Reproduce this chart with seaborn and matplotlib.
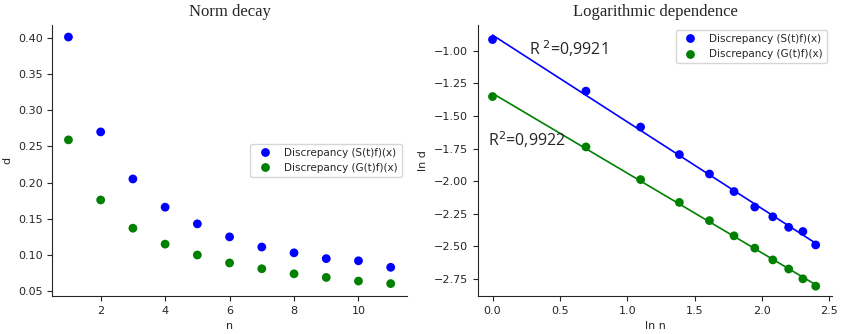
import numpy as np
import pandas as pd
import seaborn as sns
import matplotlib
matplotlib.use('Agg')
import matplotlib.pyplot as plt

# data
n = [1, 2, 3, 4, 5, 6, 7, 8, 9, 10, 11]
d_S = [0.401, 0.270, 0.205, 0.166, 0.143, 0.125, 0.111, 0.103, 0.095, 0.092, 0.083]
d_G = [0.259, 0.176, 0.137, 0.115, 0.100, 0.089, 0.081, 0.074, 0.069, 0.064, 0.0605]
lbl_S = 'Discrepancy (S(t)f)(x)'
lbl_G = 'Discrepancy (G(t)f)(x)'
r2_S = 'R$^{\\ 2}$=0,9921'
r2_G = 'R$^{2}$=0,9922'

sns.set_style('ticks')
plt.rcParams['font.family'] = ['DejaVu Sans']

df = pd.DataFrame({'n': n + n, 'd': d_S + d_G,
                   'serie': [lbl_S] * len(n) + [lbl_G] * len(n)})
df['ln n'] = np.log(df['n'])
df['ln d'] = np.log(df['d'])
boje = {lbl_S: 'blue', lbl_G: 'green'}

fig, axes = plt.subplots(1, 2, figsize=(8.44, 3.34), dpi=100)
fig.subplots_adjust(left=0.062, right=0.986, top=0.926, bottom=0.114, wspace=0.2)

# lijevi graf
ax = axes[0]
sns.scatterplot(data=df, x='n', y='d', hue='serie', palette=boje, ax=ax,
                s=40, edgecolor=None, linewidth=0)
ax.set_title('Norm decay', fontfamily='Liberation Serif', fontsize=12)
ax.set_xlabel('n', fontsize=8)
ax.set_ylabel('d', fontsize=8)
ax.set_yticks([0.05, 0.10, 0.15, 0.20, 0.25, 0.30, 0.35, 0.40])
ax.tick_params(labelsize=8)
ax.legend(title=None, fontsize=7.5, loc='center right', bbox_to_anchor=(1.0, 0.5))
sns.despine(ax=ax)

# desni graf
ax = axes[1]
for s in [lbl_S, lbl_G]:
    sub = df[df['serie'] == s]
    k, b = np.polyfit(sub['ln n'], sub['ln d'], 1)
    xx = np.array([sub['ln n'].min(), sub['ln n'].max()])
    ax.plot(xx, k * xx + b, color=boje[s], lw=1.2)
sns.scatterplot(data=df, x='ln n', y='ln d', hue='serie', palette=boje, ax=ax,
                s=40, edgecolor=None, linewidth=0)
ax.set_title('Logarithmic dependence', fontfamily='Liberation Serif', fontsize=12)
ax.set_xlabel('ln n', fontsize=8)
ax.set_ylabel('ln d', fontsize=8)
ax.set_xlim(-0.11, 2.52)
ax.set_ylim(-2.88, -0.8)
ax.set_yticks([-1.0, -1.25, -1.5, -1.75, -2.0, -2.25, -2.5, -2.75])
ax.tick_params(labelsize=8)
ax.text(0.27, -1.03, r2_S, fontsize=11.5, fontfamily='Open Sans')
ax.text(-0.03, -1.73, r2_G, fontsize=11.5, fontfamily='Open Sans')
ax.legend(title=None, fontsize=7.5, loc='upper right')
sns.despine(ax=ax)

fig.savefig('out.png', dpi=100)
